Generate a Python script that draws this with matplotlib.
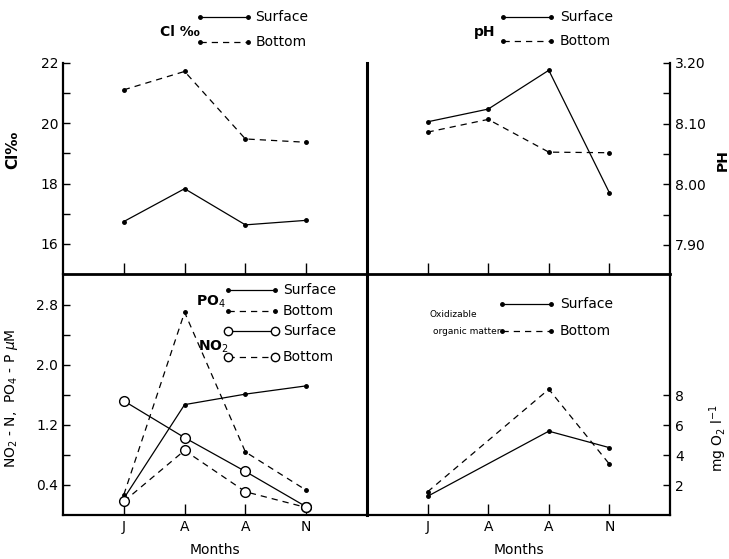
import numpy as np
import matplotlib.pyplot as plt
from matplotlib.ticker import FixedLocator

months = ['J', 'A', 'A', 'N']
x = np.arange(len(months))

cl_surface = [16.74, 17.83, 16.63, 16.78]
cl_bottom = [21.11, 21.72, 19.48, 19.37]

ph_surface = [8.103, 8.124, 8.188, 7.986]
ph_bottom = [8.086, 8.107, 8.053, 8.052]

po4_surface = [0.22, 1.47, 1.61, 1.72]
po4_bottom = [0.27, 2.70, 0.84, 0.33]
no2_surface = [1.52, 1.03, 0.58, 0.11]
no2_bottom = [0.18, 0.86, 0.31, 0.10]

oxi_months = [0, 2, 3]
oxi_surface = [1.25, 5.6, 4.5]
oxi_bottom = [1.55, 8.4, 3.4]

plt.rcParams['font.family'] = 'DejaVu Sans'
plt.rcParams['font.size'] = 10

fig = plt.figure(figsize=[7.29, 5.59], dpi=100)
W, H = 729.0, 559.0
def box(x0, y0, x1, y1):
    return [x0 / W, 1 - y1 / H, (x1 - x0) / W, (y1 - y0) / H]

ax1 = fig.add_axes(box(63, 63, 367, 274))
ax2 = fig.add_axes(box(367, 63, 670, 274))
ax3 = fig.add_axes(box(63, 274, 367, 515))
ax4 = fig.add_axes(box(367, 274, 670, 515))

lw = 0.9
dash = (0, (5, 4))

for ax in [ax1, ax2, ax3, ax4]:
    ax.patch.set_visible(False)
    ax.set_xlim(-1, 4)
    ax.set_xticks(x)
    ax.spines['top'].set_visible(False)
    for s in ['left', 'right', 'bottom']:
        ax.spines[s].set_linewidth(1.6)
    ax.tick_params(axis='x', direction='in', length=8, width=1)
    ax.tick_params(axis='y', which='both', direction='in', length=5, width=1)

ax1.spines['right'].set_visible(False)
ax3.spines['right'].set_linewidth(2.2)
ax1.spines['bottom'].set_linewidth(2.0)
ax2.spines['bottom'].set_linewidth(2.0)
ax2.spines['left'].set_linewidth(2.2)
ax4.spines['left'].set_visible(False)
ax1.set_xticklabels([])
ax2.set_xticklabels([])
ax3.set_xticklabels(months)
ax4.set_xticklabels(months)

# Cl
ax1.plot(x, cl_surface, '-', color='k', lw=lw, marker='o', ms=2.5)
ax1.plot(x, cl_bottom, linestyle=dash, color='k', lw=lw, marker='o', ms=2.5)
ax1.set_ylim(15.0, 22.0)
ax1.set_yticks([16, 18, 20, 22])
ax1.yaxis.set_minor_locator(FixedLocator([17, 19, 21]))
ax1.set_ylabel('Cl‰', fontweight='bold', fontsize=11)
ax1.yaxis.set_label_coords(-0.14, 0.59)

# pH
ax2.plot(x, ph_surface, '-', color='k', lw=lw, marker='o', ms=2.5)
ax2.plot(x, ph_bottom, linestyle=dash, color='k', lw=lw, marker='o', ms=2.5)
ax2.set_ylim(7.852, 8.20)
ax2.yaxis.tick_right()
ax2.tick_params(axis='y', which='both', left=False, right=True)
ax2.set_yticks([7.90, 8.00, 8.10, 8.20])
ax2.set_yticklabels(['7.90', '8.00', '8.10', '3.20'])
ax2.yaxis.set_minor_locator(FixedLocator([7.95, 8.05, 8.15]))
ax2.yaxis.set_label_position('right')
ax2.set_ylabel('PH', fontweight='bold', fontsize=10)
ax2.yaxis.set_label_coords(1.15, 0.54)

# NO2 / PO4
ax3.plot(x, po4_surface, '-', color='k', lw=lw, marker='o', ms=2.5)
ax3.plot(x, po4_bottom, linestyle=dash, color='k', lw=lw, marker='o', ms=2.5)
ax3.plot(x, no2_surface, '-', color='k', lw=lw, marker='o', ms=7, mfc='white', mew=1)
ax3.plot(x, no2_bottom, linestyle=dash, color='k', lw=lw, marker='o', ms=7, mfc='white', mew=1)
ax3.set_ylim(0, 3.21)
ax3.set_yticks([0.4, 1.2, 2.0, 2.8])
ax3.yaxis.set_minor_locator(FixedLocator([0.8, 1.6, 2.4]))
ax3.set_ylabel('NO$_2$ - N,  PO$_4$ - P $\\mu$M')
ax3.yaxis.set_label_coords(-0.14, 0.485)
ax3.set_xlabel('Months')
ax3.xaxis.set_label_coords(0.5, -0.115)

# oxidizable organic matter
ax4.plot(oxi_months, oxi_surface, '-', color='k', lw=lw, marker='o', ms=2.5)
ax4.plot(oxi_months, oxi_bottom, linestyle=dash, color='k', lw=lw, marker='o', ms=2.5)
ax4.set_ylim(0, 16.1)
ax4.yaxis.tick_right()
ax4.tick_params(axis='y', which='both', left=False, right=True)
ax4.set_yticks([2, 4, 6, 8])
ax4.yaxis.set_label_position('right')
ax4.set_ylabel('mg O$_2$ l$^{-1}$')
ax4.yaxis.set_label_coords(1.125, 0.32)
ax4.set_xlabel('Months')
ax4.xaxis.set_label_coords(0.5, -0.115)

# hand-drawn style legends
def key(ax, x0, x1, y, ls, circles=False):
    if circles:
        ax.plot([x0, x1], [y, y], linestyle=ls, color='k', lw=lw, marker='o', ms=6,
                mfc='white', mew=1, transform=ax.transAxes, clip_on=False)
    else:
        ax.plot([x0, x1], [y, y], linestyle=ls, color='k', lw=lw, marker='o', ms=2.5,
                transform=ax.transAxes, clip_on=False)

key(ax1, 0.451, 0.609, 1.218, '-')
key(ax1, 0.451, 0.609, 1.100, dash)
ax1.text(0.632, 1.218, 'Surface', transform=ax1.transAxes, va='center')
ax1.text(0.632, 1.100, 'Bottom', transform=ax1.transAxes, va='center')
ax1.text(0.385, 1.147, 'Cl ‰', transform=ax1.transAxes, ha='center', va='center',
         fontweight='bold')

key(ax2, 0.449, 0.607, 1.218, '-')
key(ax2, 0.449, 0.607, 1.104, dash)
ax2.text(0.637, 1.218, 'Surface', transform=ax2.transAxes, va='center')
ax2.text(0.637, 1.104, 'Bottom', transform=ax2.transAxes, va='center')
ax2.text(0.389, 1.147, 'pH', transform=ax2.transAxes, ha='center', va='center',
         fontweight='bold')

key(ax3, 0.543, 0.697, 0.934, '-')
key(ax3, 0.543, 0.697, 0.846, dash)
key(ax3, 0.543, 0.697, 0.763, '-', circles=True)
key(ax3, 0.543, 0.697, 0.657, dash, circles=True)
for yy, t in [(0.934, 'Surface'), (0.846, 'Bottom'), (0.763, 'Surface'), (0.657, 'Bottom')]:
    ax3.text(0.724, yy, t, transform=ax3.transAxes, va='center')
ax3.text(0.535, 0.885, 'PO$_4$', transform=ax3.transAxes, ha='right', va='center',
         fontweight='bold')
ax3.text(0.545, 0.70, 'NO$_2$', transform=ax3.transAxes, ha='right', va='center',
         fontweight='bold')

key(ax4, 0.446, 0.607, 0.875, '-')
key(ax4, 0.446, 0.607, 0.763, dash)
ax4.text(0.637, 0.875, 'Surface', transform=ax4.transAxes, va='center')
ax4.text(0.637, 0.763, 'Bottom', transform=ax4.transAxes, va='center')
ax4.text(0.284, 0.834, 'Oxidizable', transform=ax4.transAxes, ha='center', va='center',
         fontsize=6.5)
ax4.text(0.44, 0.763, 'organic matter', transform=ax4.transAxes, ha='right', va='center',
         fontsize=6.5)

plt.savefig('out.png', dpi=100)
plt.close()
